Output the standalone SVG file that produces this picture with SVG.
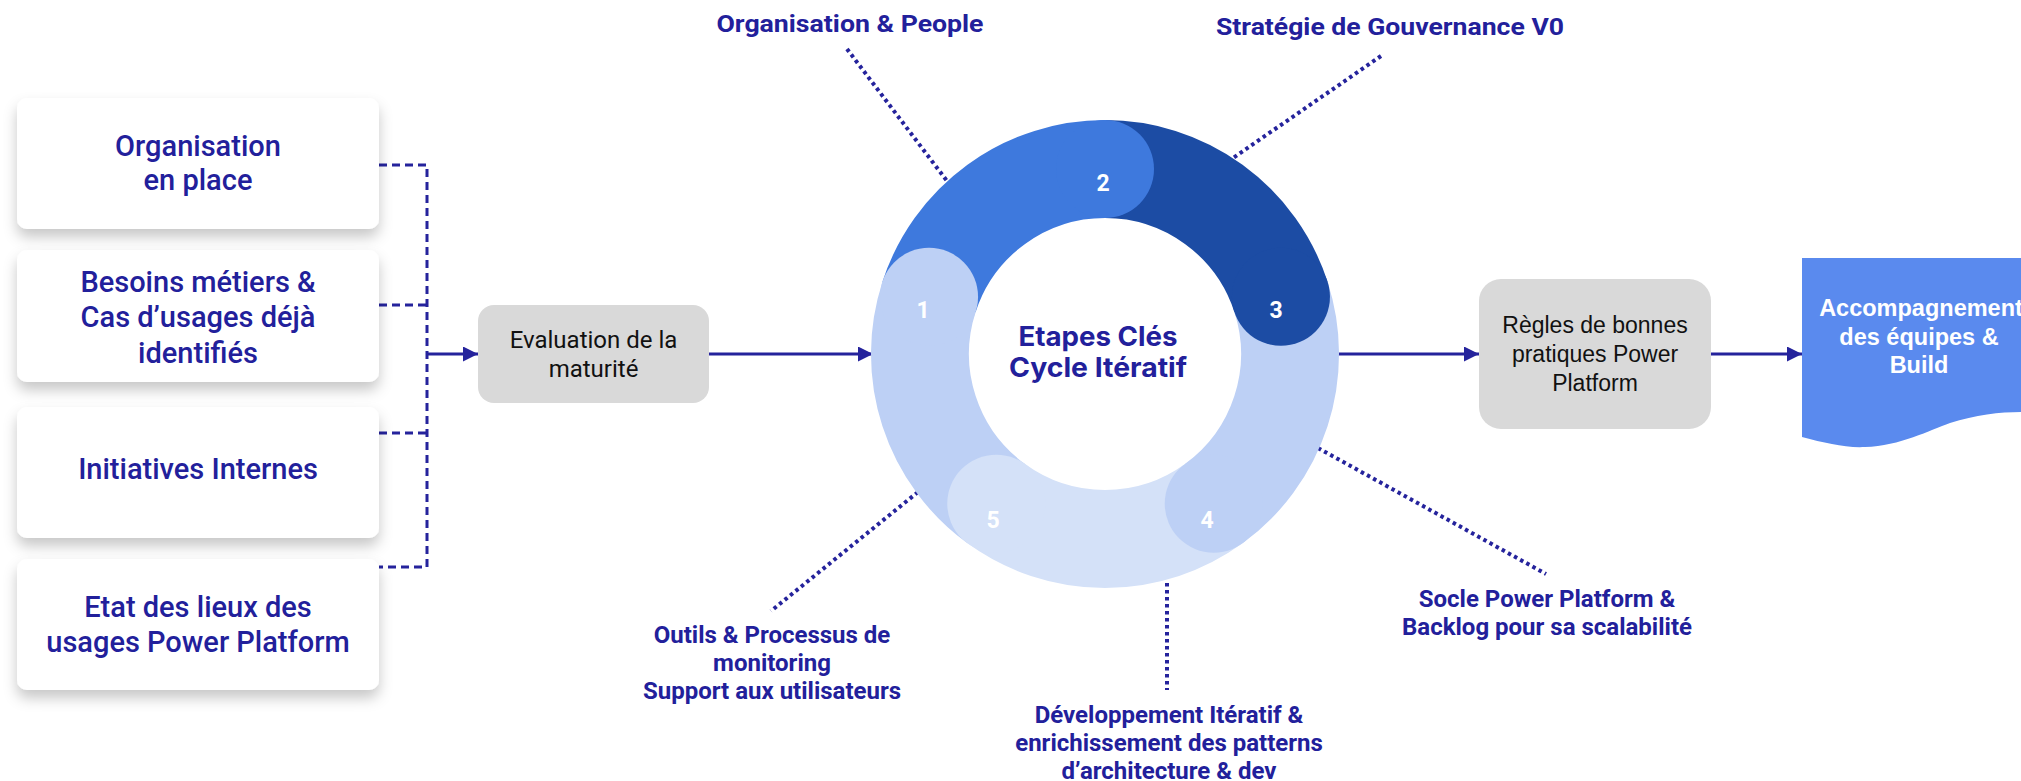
<svg xmlns="http://www.w3.org/2000/svg" width="2021" height="781" viewBox="0 0 2021 781">
<style>
.box{fill:#ffffff;filter:url(#sh)}
.bt{font-family:Roboto,"Liberation Sans",sans-serif;font-weight:500;font-size:29px;fill:#22209b;text-anchor:middle}
.lbl{font-family:Roboto,"Liberation Sans",sans-serif;font-weight:700;font-size:24px;fill:#22209b;text-anchor:middle}
.num{font-family:Roboto,"Liberation Sans",sans-serif;font-weight:700;font-size:23px;fill:#ffffff;text-anchor:middle}
.gray{fill:#d9d9d9}
.dash{fill:none;stroke:#25239c;stroke-width:3;stroke-dasharray:8 5}
.dot{fill:none;stroke:#25239c;stroke-width:4;stroke-dasharray:3.5 3.5}
.arr{fill:none;stroke:#25239c;stroke-width:3;marker-end:url(#ah)}
.seg{fill:none;stroke-width:98}
</style>
<defs>
<filter id="sh" x="-10%" y="-20%" width="120%" height="150%">
<feDropShadow dx="0" dy="8" stdDeviation="7" flood-color="#000" flood-opacity="0.22"/>
</filter>
<marker id="ah" markerUnits="userSpaceOnUse" markerWidth="16" markerHeight="16" refX="15" refY="7.5" orient="auto">
<path d="M0,0 L15,7.5 L0,15 Z" fill="#25239c"/>
</marker>
</defs>

<g id="connectors">
<path class="dash" d="M379,165 H427 V567 H379"/>
<path class="dash" d="M379,305 H427"/>
<path class="dash" d="M379,433 H427"/>
<path class="arr" d="M427,354 H478"/>
<path class="arr" d="M709,354 H873"/>
<path class="arr" d="M1338,354 H1479"/>
<path class="arr" d="M1711,354 H1802"/>
<path class="dot" d="M847,49 L947,181"/>
<path class="dot" d="M1381,56 L1233,158"/>
<path class="dot" d="M1318,448 L1546,574"/>
<path class="dot" d="M918,492 L771,611"/>
<path class="dot" d="M1167,583 L1167,690"/>
</g>

<g id="box-organisation">
<rect class="box" x="17" y="98" width="362" height="131" rx="10"/>
<text class="bt" x="198" y="156">Organisation</text>
<text class="bt" x="198" y="190">en place</text>
</g>
<g id="box-besoins">
<rect class="box" x="17" y="250" width="362" height="132" rx="10"/>
<text class="bt" x="198" y="292">Besoins métiers &amp;</text>
<text class="bt" x="198" y="327">Cas d’usages déjà</text>
<text class="bt" x="198" y="363">identifiés</text>
</g>
<g id="box-initiatives">
<rect class="box" x="17" y="407" width="362" height="131" rx="10"/>
<text class="bt" x="198" y="479">Initiatives Internes</text>
</g>
<g id="box-etat">
<rect class="box" x="17" y="559" width="362" height="131" rx="10"/>
<text class="bt" x="198" y="617">Etat des lieux des</text>
<text class="bt" x="198" y="652">usages Power Platform</text>
</g>

<g id="evaluation">
<rect class="gray" x="478" y="305" width="231" height="98" rx="16"/>
<text x="593.5" y="348" font-family="Roboto,'Liberation Sans',sans-serif" font-size="24" fill="#111" text-anchor="middle">Evaluation de la</text>
<text x="593.5" y="377" font-family="Roboto,'Liberation Sans',sans-serif" font-size="24" fill="#111" text-anchor="middle">maturité</text>
</g>

<g id="cycle">
<path class="seg" stroke="#bdd0f5" d="M996.26,503.67 A185,185 0 0 1 929.05,296.83"/>
<path class="seg" stroke="#3e79dd" d="M929.05,296.83 A185,185 0 0 1 1105,169"/>
<path class="seg" stroke="#1c4ca4" d="M1105,169 A185,185 0 0 1 1280.95,296.83"/>
<path class="seg" stroke="#bdd0f5" d="M1280.95,296.83 A185,185 0 0 1 1213.74,503.67"/>
<path class="seg" stroke="#d4e1f8" d="M1213.74,503.67 A185,185 0 0 1 996.26,503.67"/>
<circle cx="929.05" cy="296.83" r="49" fill="#bdd0f5"/>
<circle cx="1105" cy="169" r="49" fill="#3e79dd"/>
<circle cx="1280.95" cy="296.83" r="49" fill="#1c4ca4"/>
<circle cx="1213.74" cy="503.67" r="49" fill="#bdd0f5"/>
<circle cx="996.26" cy="503.67" r="49" fill="#d4e1f8"/>
<text class="num" x="923" y="318">1</text>
<text class="num" x="1103" y="191">2</text>
<text class="num" x="1276" y="318">3</text>
<text class="num" x="1207" y="528">4</text>
<text class="num" x="993" y="528">5</text>
<text x="1098" y="346" font-family="Inter,'Open Sans',sans-serif" font-weight="700" font-size="27" fill="#22209b" text-anchor="middle" textLength="159" lengthAdjust="spacingAndGlyphs">Etapes Clés</text>
<text x="1098" y="377" font-family="Inter,'Open Sans',sans-serif" font-weight="700" font-size="27" fill="#22209b" text-anchor="middle" textLength="178" lengthAdjust="spacingAndGlyphs">Cycle Itératif</text>
</g>

<g id="label-org-people">
<text class="lbl" x="850" y="32" font-size="26" textLength="267" lengthAdjust="spacingAndGlyphs">Organisation &amp; People</text>
</g>
<g id="label-strategie">
<text class="lbl" x="1390" y="35" font-size="26" textLength="348" lengthAdjust="spacingAndGlyphs">Stratégie de Gouvernance V0</text>
</g>
<g id="label-socle">
<text class="lbl" x="1547" y="607">Socle Power Platform &amp;</text>
<text class="lbl" x="1547" y="635">Backlog pour sa scalabilité</text>
</g>
<g id="label-outils">
<text class="lbl" x="772" y="643">Outils &amp; Processus de</text>
<text class="lbl" x="772" y="671">monitoring</text>
<text class="lbl" x="772" y="699">Support aux utilisateurs</text>
</g>
<g id="label-dev">
<text class="lbl" x="1169" y="723">Développement Itératif &amp;</text>
<text class="lbl" x="1169" y="751">enrichissement des patterns</text>
<text class="lbl" x="1169" y="779">d’architecture &amp; dev</text>
</g>

<g id="regles">
<rect class="gray" x="1479" y="279" width="232" height="150" rx="22"/>
<text x="1595" y="333" font-family="'Liberation Sans',Arial,sans-serif" font-size="23" fill="#111" text-anchor="middle">Règles de bonnes</text>
<text x="1595" y="362" font-family="'Liberation Sans',Arial,sans-serif" font-size="23" fill="#111" text-anchor="middle">pratiques Power</text>
<text x="1595" y="391" font-family="'Liberation Sans',Arial,sans-serif" font-size="23" fill="#111" text-anchor="middle">Platform</text>
</g>

<g id="accompagnement">
<path fill="#5a8aee" d="M1802,258 H2021 V412 C2000,412 1975,415 1950,423 C1930,430 1900,446 1865,447 C1845,448 1825,443 1802,437 Z"/>
<text x="1921" y="316" font-family="'Liberation Sans',Arial,sans-serif" font-weight="700" font-size="23.5" fill="#ffffff" text-anchor="middle">Accompagnement</text>
<text x="1919" y="345" font-family="'Liberation Sans',Arial,sans-serif" font-weight="700" font-size="23.5" fill="#ffffff" text-anchor="middle">des équipes &amp;</text>
<text x="1919" y="373" font-family="'Liberation Sans',Arial,sans-serif" font-weight="700" font-size="23.5" fill="#ffffff" text-anchor="middle">Build</text>
</g>
</svg>
